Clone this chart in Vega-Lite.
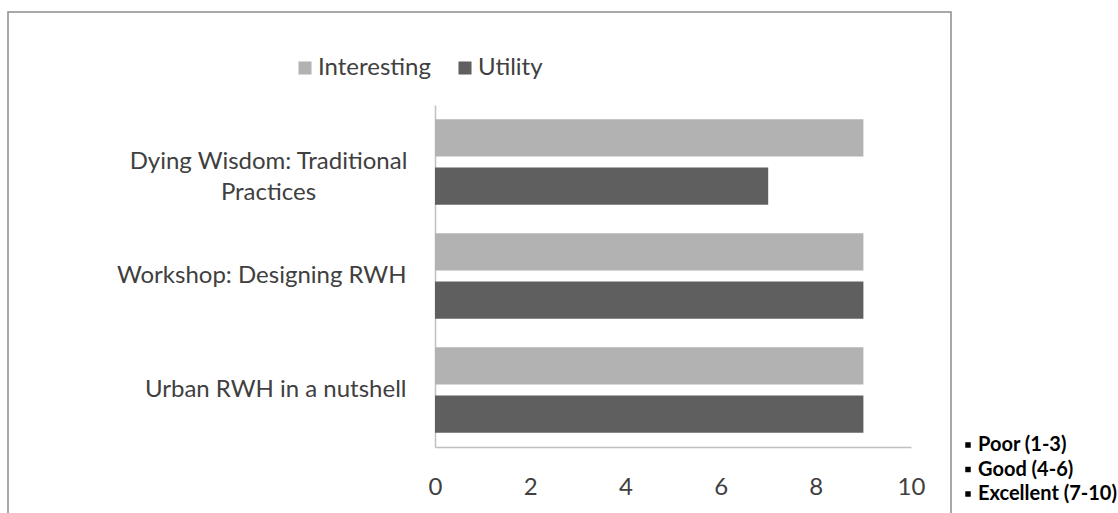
{
  "$schema": "https://vega.github.io/schema/vega-lite/v6.json",
  "width": 943,
  "height": 504,
  "padding": {"left": 8, "top": 12, "right": 0, "bottom": 0},
  "background": "white",
  "config": {
    "view": {"stroke": "#8c8c8c", "strokeWidth": 1.5},
    "font": "Lato",
    "axis": {
      "grid": false,
      "ticks": false,
      "tickSize": 0,
      "domainColor": "#c0c0c0",
      "domainWidth": 1.5,
      "labelFont": "Lato",
      "labelFontSize": 24,
      "labelColor": "#404040",
      "title": null
    }
  },
  "datasets": {
    "scores": [
      {"session": "Dying Wisdom: Traditional Practices", "measure": "Interesting", "score": 9},
      {"session": "Dying Wisdom: Traditional Practices", "measure": "Utility", "score": 7},
      {"session": "Workshop: Designing RWH", "measure": "Interesting", "score": 9},
      {"session": "Workshop: Designing RWH", "measure": "Utility", "score": 9},
      {"session": "Urban RWH in a nutshell", "measure": "Interesting", "score": 9},
      {"session": "Urban RWH in a nutshell", "measure": "Utility", "score": 9}
    ],
    "ratings": [
      {"rating": "Poor (1-3)"},
      {"rating": "Good (4-6)"},
      {"rating": "Excellent (7-10)"}
    ]
  },
  "layer": [
    {
      "data": {"name": "scores"},
      "mark": {"type": "bar"},
      "encoding": {
        "y": {
          "field": "session",
          "type": "nominal",
          "sort": null,
          "scale": {"range": [93, 435], "paddingInner": 0.25, "paddingOuter": 0.125},
          "axis": {
            "orient": "left",
            "offset": -427,
            "labelLimit": 400,
            "labelLineHeight": 31,
            "labelExpr": "datum.value === 'Dying Wisdom: Traditional Practices' ? ['Dying Wisdom: Traditional', 'Practices'] : datum.label",
            "labelAlign": {"condition": {"test": "datum.value === 'Dying Wisdom: Traditional Practices'", "value": "center"}, "value": "right"},
            "labelPadding": {"condition": {"test": "datum.value === 'Dying Wisdom: Traditional Practices'", "value": 167}, "value": 29}
          }
        },
        "yOffset": {
          "field": "measure",
          "type": "nominal",
          "sort": ["Interesting", "Utility"],
          "scale": {"paddingInner": 0.23}
        },
        "x": {
          "field": "score",
          "type": "quantitative",
          "scale": {"domain": [0, 10], "range": [427, 903], "nice": false},
          "axis": {
            "orient": "bottom",
            "offset": -69,
            "values": [0, 2, 4, 6, 8, 10],
            "format": "d",
            "labelFlush": false,
            "labelBaseline": "middle",
            "labelPadding": 40
          }
        },
        "color": {
          "field": "measure",
          "type": "nominal",
          "sort": ["Interesting", "Utility"],
          "scale": {"range": ["#b2b2b2", "#5f5f5f"]},
          "legend": {
            "orient": "none",
            "legendX": 285,
            "legendY": 44,
            "direction": "horizontal",
            "title": null,
            "symbolType": "square",
            "symbolSize": 170,
            "symbolStrokeWidth": 0,
            "labelFont": "Lato",
            "labelFontSize": 24,
            "labelColor": "#404040",
            "labelOffset": 1,
            "columnPadding": 22
          }
        }
      }
    },
    {
      "data": {"name": "ratings"},
      "mark": {"type": "point", "filled": true, "color": "black", "opacity": 0},
      "encoding": {
        "shape": {
          "field": "rating",
          "type": "nominal",
          "sort": null,
          "scale": {"range": ["square", "square", "square"]},
          "legend": {
            "orient": "none",
            "legendX": 950,
            "legendY": 423,
            "direction": "vertical",
            "title": null,
            "symbolType": "square",
            "symbolSize": 30,
            "symbolFillColor": "black",
            "symbolStrokeColor": "black",
            "symbolOpacity": 1,
            "labelFont": "Lato",
            "labelFontWeight": "bold",
            "labelFontSize": 20,
            "labelColor": "black",
            "labelOffset": 0,
            "rowPadding": 4.5
          }
        }
      }
    }
  ]
}
